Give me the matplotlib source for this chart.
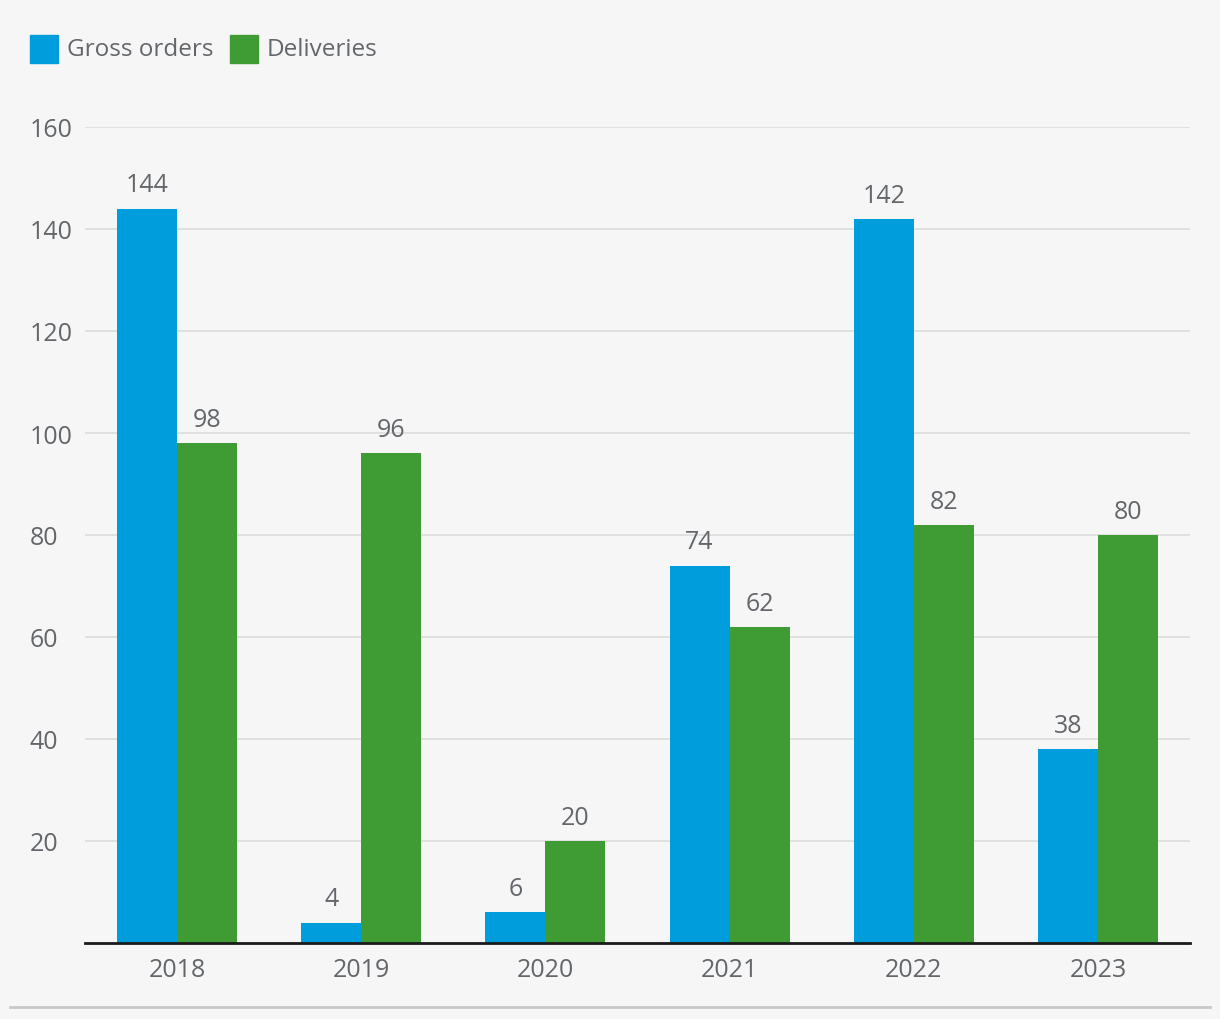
import matplotlib.pyplot as plt
from matplotlib.patches import Rectangle
from matplotlib.lines import Line2D
import numpy as np

years = ['2018', '2019', '2020', '2021', '2022', '2023']
gross_orders = [144, 4, 6, 74, 142, 38]
deliveries = [98, 96, 20, 62, 82, 80]
y_ticks = [20, 40, 60, 80, 100, 120, 140, 160]

c_blue = '#009ddc'
c_green = '#3f9c35'
c_text = '#63666a'
bg = '#f6f6f6'

plt.rcParams['font.family'] = ['Open Sans', 'DejaVu Sans']

fig = plt.figure(figsize=(12.2, 10.2), dpi=100, facecolor=bg)
ax = fig.add_axes([85/1220, 76/1020, 1105/1220, 816/1020])
ax.set_facecolor(bg)

x = np.arange(len(years))
w = 60/184
b1 = ax.bar(x - w/2, gross_orders, w, color=c_blue, zorder=3)
b2 = ax.bar(x + w/2, deliveries, w, color=c_green, zorder=3)

for bars, vals in ((b1, gross_orders), (b2, deliveries)):
    for r, v in zip(bars, vals):
        ax.annotate(str(v), (r.get_x() + r.get_width()/2, v), xytext=(0, 8),
                    textcoords='offset points', ha='center', va='bottom',
                    fontsize=18, color=c_text)

ax.set_xlim(-0.5, len(years) - 0.5)
ax.set_ylim(0, 160)
ax.set_yticks(y_ticks)
ax.set_xticks(x)
ax.set_xticklabels(years)
ax.grid(axis='y', color='#dcdcdc', linewidth=1.2, zorder=0)
for s in ['top', 'right', 'left']:
    ax.spines[s].set_visible(False)
ax.spines['bottom'].set_color('#1a1a1a')
ax.spines['bottom'].set_linewidth(2)
ax.spines['bottom'].set_zorder(4)
ax.tick_params(axis='both', length=0, labelsize=18, labelcolor=c_text)
ax.tick_params(axis='x', pad=10)
for lbl in ax.get_yticklabels():
    lbl.set_horizontalalignment('left')
ax.yaxis.set_tick_params(pad=40)

# legend
fig.patches.append(Rectangle((30/1220, 1-64/1020), 28/1220, 28/1020,
                             transform=fig.transFigure, color=c_blue))
fig.text(67/1220, 1-50/1020, 'Gross orders', fontsize=17.5, color=c_text, va='center')
fig.patches.append(Rectangle((230/1220, 1-64/1020), 28/1220, 28/1020,
                             transform=fig.transFigure, color=c_green))
fig.text(267/1220, 1-50/1020, 'Deliveries', fontsize=17.5, color=c_text, va='center')

# bottom rule
fig.lines.append(Line2D([10/1220, 1210/1220], [1-1008/1020, 1-1008/1020],
                        transform=fig.transFigure, color='#c8c8c8', linewidth=2))

fig.savefig('out.png', facecolor=bg)
